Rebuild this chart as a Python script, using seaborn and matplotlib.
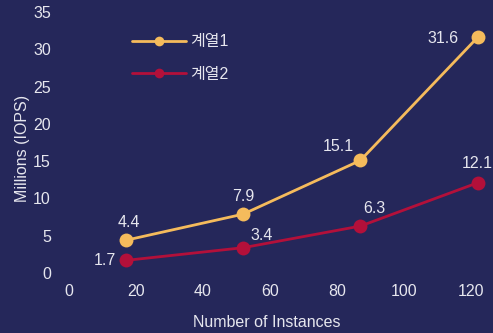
import matplotlib
matplotlib.use("Agg")
import matplotlib.pyplot as plt
import seaborn as sns
import pandas as pd

instances = [17, 52, 87, 122]
series1 = [4.4, 7.9, 15.1, 31.6]
series2 = [1.7, 3.4, 6.3, 12.1]
series_names = ["계열1", "계열2"]
x_ticks = [0, 20, 40, 60, 80, 100, 120]
y_ticks = [0, 5, 10, 15, 20, 25, 30, 35]

df = pd.DataFrame({
    "x": instances * 2,
    "y": series1 + series2,
    "series": [series_names[0]] * 4 + [series_names[1]] * 4,
})

sns.set_theme(style="dark")
plt.rcParams["font.family"] = ["Liberation Sans", "Noto Sans CJK KR", "DejaVu Sans"]

bg = "#25275a"
txt = "#e6e6ee"
colors = {series_names[0]: "#f5bb5c", series_names[1]: "#b3103a"}
fs = 11.5

fig = plt.figure(figsize=(4.93, 3.33), dpi=100, facecolor=bg)
ax = fig.add_axes([0.14, 0.18, 0.856, 0.784])
ax.set_facecolor(bg)

sns.lineplot(data=df, x="x", y="y", hue="series", palette=colors, marker="o",
             markersize=10, markeredgewidth=0, linewidth=2, ax=ax)

for s in ax.spines.values():
    s.set_visible(False)
ax.grid(False)
ax.set_xlim(0, 126)
ax.set_ylim(0, 35)
ax.set_xticks(x_ticks)
ax.set_yticks(y_ticks)
ax.tick_params(axis="both", length=0, colors=txt, labelsize=fs)
ax.tick_params(axis="y", pad=13)
ax.tick_params(axis="x", pad=8)
ax.set_xlabel("Number of Instances", color=txt, fontsize=fs)
ax.set_ylabel("Millions (IOPS)", color=txt, fontsize=fs)
ax.xaxis.set_label_coords(0.469, -0.16)
ax.yaxis.set_label_coords(-0.092, 0.477)

off1 = [(2, 13), (0, 13), (-16, 10), (-25, -1)]
off2 = [(-15, 0), (13, 9), (10, 13), (0, 14)]
for x, y, o in zip(instances, series1, off1):
    ax.annotate(f"{y}", (x, y), xytext=o, textcoords="offset points",
                ha="center", va="center", color=txt, fontsize=fs)
for x, y, o in zip(instances, series2, off2):
    ax.annotate(f"{y}", (x, y), xytext=o, textcoords="offset points",
                ha="center", va="center", color=txt, fontsize=fs)

leg = ax.legend(loc="upper left", bbox_to_anchor=(0.115, 0.97), frameon=False,
                fontsize=fs, handlelength=3.4, labelspacing=1.1, handletextpad=0.25,
                title=None)
for t in leg.get_texts():
    t.set_color(txt)
for h in leg.legend_handles:
    h.set_markersize(7)

fig.savefig("out.png", dpi=100, facecolor=bg)
